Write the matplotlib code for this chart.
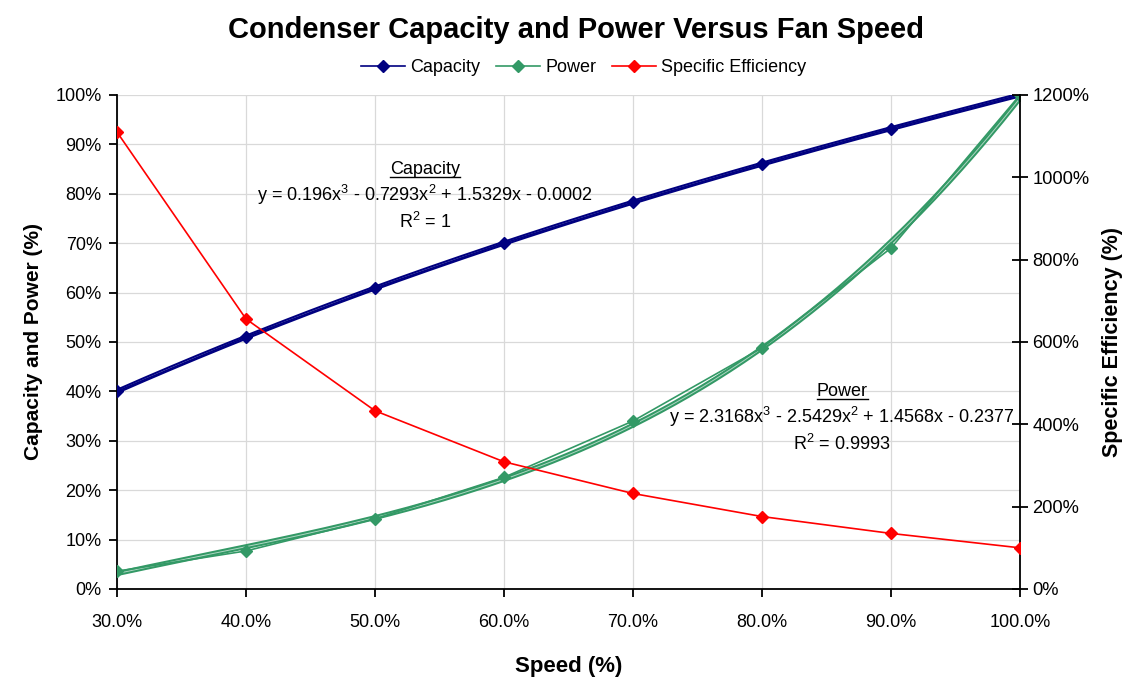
import numpy as np
import matplotlib
matplotlib.use("Agg")
import matplotlib.pyplot as plt
from matplotlib.lines import Line2D
from matplotlib.ticker import FuncFormatter, MultipleLocator

plt.rcParams['font.family'] = ['Liberation Sans', 'DejaVu Sans']
plt.rcParams['mathtext.fontset'] = 'custom'
plt.rcParams['mathtext.rm'] = 'Liberation Sans'
plt.rcParams['mathtext.it'] = 'Liberation Sans'

speed = [0.30, 0.40, 0.50, 0.60, 0.70, 0.80, 0.90, 1.00]
capacity = [0.400, 0.510, 0.609, 0.700, 0.783, 0.860, 0.932, 1.000]
power = [0.036, 0.077, 0.142, 0.226, 0.340, 0.488, 0.690, 1.000]
spec_eff = [11.10, 6.56, 4.33, 3.09, 2.32, 1.76, 1.35, 1.00]

cap_color = '#000080'
pow_color = '#339966'
eff_color = '#FF0000'

fig = plt.figure(figsize=(11.27, 6.77), dpi=100)
ax = fig.add_axes([0.1038, 0.130, 0.8012, 0.7297])
ax2 = ax.twinx()

x = np.array(speed)
xs = np.linspace(x.min(), x.max(), 200)
for ys, c in ((capacity, cap_color), (power, pow_color)):
    coef = np.polyfit(x, ys, 3)
    yfit = np.polyval(coef, xs)
    ax.plot(xs, yfit, color=c, lw=3.6, zorder=3, solid_capstyle='round')
    ax.plot(xs, yfit, color='white', lw=0.7, alpha=0.6, zorder=3)

ax.plot(speed, capacity, color=cap_color, lw=1.2, marker='D', ms=6, zorder=4, label='Capacity')
ax.plot(speed, power, color=pow_color, lw=1.2, marker='D', ms=6, zorder=4, label='Power')
ax2.plot(speed, spec_eff, color=eff_color, lw=1.2, marker='D', ms=6, zorder=4, label='Specific Efficiency')

ax.set_xlim(0.3, 1.0)
ax.set_ylim(0, 1.0)
ax2.set_ylim(0, 12.0)
ax.xaxis.set_major_locator(MultipleLocator(0.1))
ax.yaxis.set_major_locator(MultipleLocator(0.1))
ax2.yaxis.set_major_locator(MultipleLocator(2.0))
ax.xaxis.set_major_formatter(FuncFormatter(lambda v, p: f"{v*100:.1f}%"))
ax.yaxis.set_major_formatter(FuncFormatter(lambda v, p: f"{v*100:.0f}%"))
ax2.yaxis.set_major_formatter(FuncFormatter(lambda v, p: f"{v*100:.0f}%"))

ax.grid(True, color='#d9d9d9', lw=0.9)
ax.set_axisbelow(True)
for a in (ax, ax2):
    a.spines['top'].set_visible(False)
    a.spines['left'].set_linewidth(1.3)
    a.spines['bottom'].set_linewidth(1.3)
    a.spines['right'].set_linewidth(1.3)
ax.spines['right'].set_visible(False)
ax2.spines['left'].set_visible(False)
ax2.spines['bottom'].set_visible(False)

ax.tick_params(axis='both', labelsize=13, direction='out', length=6, width=1.3)
ax.tick_params(axis='x', pad=12)
ax.tick_params(axis='y', pad=5)
ax2.tick_params(axis='y', labelsize=13.2, direction='inout', length=12, width=1.3, pad=3)

ax.set_xlabel('Speed (%)', fontsize=16, fontweight='bold', labelpad=18)
ax.set_ylabel('Capacity and Power (%)', fontsize=15, fontweight='bold', labelpad=9)
ax2.set_ylabel('Specific Efficiency (%)', fontsize=15.5, fontweight='bold', labelpad=9)

fig.text(0.5115, 0.956, 'Condenser Capacity and Power Versus Fan Speed', ha='center', va='center',
         fontsize=21, fontweight='bold')

handles = [Line2D([], [], color=cap_color, marker='D', ms=6, lw=1.2),
           Line2D([], [], color=pow_color, marker='D', ms=6, lw=1.2),
           Line2D([], [], color=eff_color, marker='D', ms=6, lw=1.2)]
fig.legend(handles, ['Capacity', 'Power', 'Specific Efficiency'], loc='center',
           bbox_to_anchor=(0.518, 0.900), ncol=3, frameon=False, fontsize=13,
           handlelength=2.4, handletextpad=0.3, columnspacing=0.9)

def label_block(px, py, title, eq, r2):
    t = fig.text(px / 1127, 1 - py / 677, title, ha='center', va='center', fontsize=13)
    fig.text(px / 1127, 1 - (py + 26) / 677, eq, ha='center', va='center', fontsize=13)
    fig.text(px / 1127, 1 - (py + 53) / 677, r2, ha='center', va='center', fontsize=13)
    return t

t1 = label_block(425, 169, 'Capacity',
                 r'y = 0.196x$^{3}$ - 0.7293x$^{2}$ + 1.5329x - 0.0002', r'R$^{2}$ = 1')
t2 = label_block(842, 391, 'Power',
                 r'y = 2.3168x$^{3}$ - 2.5429x$^{2}$ + 1.4568x - 0.2377', r'R$^{2}$ = 0.9993')

fig.canvas.draw()
r = fig.canvas.get_renderer()
for t in (t1, t2):
    bb = t.get_window_extent(r)
    yy = (bb.y0 + 1) / fig.bbox.height
    fig.add_artist(Line2D([bb.x0 / fig.bbox.width, bb.x1 / fig.bbox.width], [yy, yy],
                          color='black', lw=1.0, transform=fig.transFigure))

fig.savefig('out.png', dpi=100)
